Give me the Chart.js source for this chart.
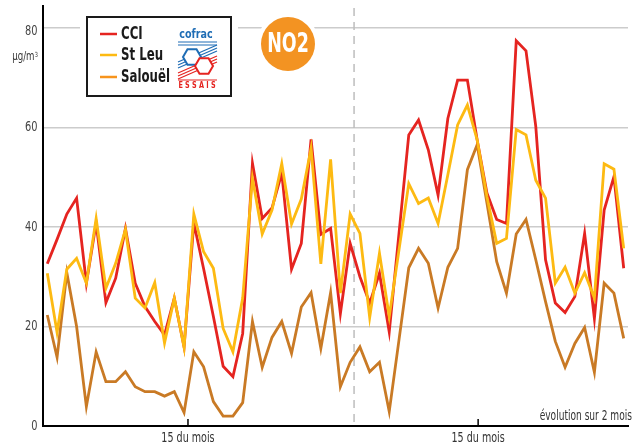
<!DOCTYPE html>
<html>
<head>
<meta charset="utf-8">
<script src="https://cdn.jsdelivr.net/npm/chart.js@4.4.0/dist/chart.umd.min.js"></script>
<style>
  html, body { margin: 0; padding: 0; background: #fff; }
  #wrap { width: 633px; height: 448px; }
</style>
</head>
<body>
<div id="wrap"><canvas id="no2Chart" width="633" height="448"></canvas></div>
<script>
// --- Data (µg/m3, one value per day over 2 months) ---
const seriesNames = ['CCI', 'St Leu', 'Salouël'];
const cci = [32.6, 37.5, 42.6, 45.8, 28.7, 40.8, 24.8, 29.7, 39.7, 28.7,
             24.0, 21.0, 18.3, 25.7, 15.9, 40.8, 31.6, 22.0, 12.0, 9.9,
             18.6, 52.8, 41.7, 43.8, 50.8, 31.5, 36.7, 57.6, 38.5, 39.7,
             22.6, 36.7, 30.0, 24.7, 30.7, 18.9, 38.7, 58.5, 61.5, 55.5,
             46.4, 61.8, 69.5, 69.5, 57.5, 46.8, 41.5, 40.7, 77.4, 75.4,
             60.2, 33.4, 24.7, 22.8, 26.0, 38.7, 21.6, 43.4, 50.1, 31.7];
const stLeu = [30.7, 18.8, 31.5, 33.7, 28.7, 41.7, 27.7, 32.7, 39.5, 25.7,
               23.7, 28.8, 16.7, 25.7, 15.8, 42.6, 35.0, 31.7, 19.6, 14.9,
               25.7, 49.8, 38.6, 43.4, 52.7, 40.6, 45.6, 55.8, 32.6, 53.6,
               26.7, 42.6, 38.7, 21.8, 34.7, 22.0, 35.4, 48.7, 44.7, 45.8,
               40.7, 50.5, 60.5, 64.5, 57.5, 46.1, 36.7, 37.7, 59.6, 58.5,
               49.4, 45.8, 28.7, 31.9, 26.7, 30.8, 25.7, 52.7, 51.6, 35.7];
const salouel = [22.3, 13.8, 30.8, 20.0, 3.9, 14.9, 8.9, 8.9, 10.9, 7.9,
                 6.9, 6.9, 6.0, 6.9, 2.7, 14.9, 11.9, 4.9, 2.0, 2.0,
                 4.7, 21.0, 11.8, 17.8, 21.0, 14.6, 23.9, 26.8, 15.6, 26.8,
                 7.9, 12.8, 15.9, 10.9, 12.8, 2.9, 17.3, 31.8, 35.7, 32.7,
                 23.7, 31.9, 35.7, 51.5, 56.5, 44.8, 33.0, 26.7, 38.6, 41.5,
                 33.4, 25.0, 17.0, 11.8, 16.6, 19.8, 10.8, 28.7, 26.7, 17.6];
const yTicks = [0, 20, 40, 60, 80];
const xTickValues = [14.4, 44.1];
const xTickLabels = ['15 du mois', '15 du mois'];
const monthBoundary = 31.4;

const FONT = "'DejaVu Sans Condensed', 'DejaVu Sans', sans-serif";
const colors = { cci: '#E52420', stLeu: '#FDBA12', salouel: '#C97A25', salouelKey: '#F7941D', blue: '#1F6DB5', red: '#E52420' };

function toPoints(arr) {
    return arr.map((v, i) => ({ x: i, y: v }));
}

// draws text squeezed horizontally (the original uses a narrow typeface)
function narrowText(ctx, text, x, y, font, color, align, squeeze) {
    ctx.save();
    ctx.font = font;
    ctx.fillStyle = color;
    ctx.textAlign = align;
    ctx.textBaseline = 'middle';
    ctx.translate(x, y);
    ctx.scale(squeeze, 1);
    ctx.fillText(text, 0, 0);
    ctx.restore();
}

// --- Decorations: dashed month line, tick labels, legend box, logo, badge ---
const decorations = {
    id: 'decorations',
    beforeDatasetsDraw(chart) {
        const ctx = chart.ctx;
        const x = chart.scales.x.getPixelForValue(monthBoundary);
        ctx.save();
        ctx.strokeStyle = '#bdbdbd';
        ctx.lineWidth = 1.5;
        ctx.setLineDash([8, 6]);
        ctx.beginPath();
        ctx.moveTo(x, chart.chartArea.top + 2);
        ctx.lineTo(x, chart.chartArea.bottom);
        ctx.stroke();
        ctx.restore();
    },
    afterDraw(chart) {
        const ctx = chart.ctx;
        const xs = chart.scales.x;
        const ys = chart.scales.y;
        const bottom = chart.chartArea.bottom;
        ctx.save();

        // x axis: inward tick marks and labels
        ctx.strokeStyle = '#000';
        ctx.lineWidth = 1.5;
        xs.ticks.forEach((t, i) => {
            const px = xs.getPixelForValue(t.value);
            ctx.beginPath();
            ctx.moveTo(px, bottom);
            ctx.lineTo(px, bottom - 7);
            ctx.stroke();
            narrowText(ctx, xTickLabels[i], px, bottom + 12, '14px ' + FONT, '#333', 'center', 0.76);
        });

        // y axis labels
        ys.ticks.forEach(t => {
            const py = ys.getPixelForValue(t.value);
            narrowText(ctx, String(t.value), 37.5, py + (t.value === 80 ? 3 : 0), '14px ' + FONT, '#444', 'right', 0.78);
        });
        narrowText(ctx, 'µg/m', 34.5, 57, '12px ' + FONT, '#333', 'right', 0.8);
        narrowText(ctx, '3', 38, 55, '7px ' + FONT, '#333', 'right', 0.8);

        // caption
        narrowText(ctx, 'évolution sur 2 mois', 632, 416, '14px ' + FONT, '#333', 'right', 0.72);

        // legend box
        ctx.fillStyle = '#fff';
        ctx.fillRect(80, 10, 158, 92);
        ctx.strokeStyle = '#1a1a1a';
        ctx.lineWidth = 2;
        ctx.strokeRect(87, 17, 144, 79);
        const keys = [
            { name: seriesNames[0], color: colors.cci, y: 34 },
            { name: seriesNames[1], color: colors.stLeu, y: 55 },
            { name: seriesNames[2], color: colors.salouelKey, y: 77 }
        ];
        keys.forEach(k => {
            ctx.strokeStyle = k.color;
            ctx.lineWidth = 2.5;
            ctx.beginPath();
            ctx.moveTo(100, k.y);
            ctx.lineTo(117, k.y);
            ctx.stroke();
            narrowText(ctx, k.name, 121, k.y + 1, 'bold 17px ' + FONT, '#1a1a1a', 'left', 0.77);
        });

        // cofrac logo (simplified)
        narrowText(ctx, 'cofrac', 196, 35, 'bold 13px ' + FONT, colors.blue, 'center', 0.82);
        ctx.lineWidth = 1.2;
        ctx.strokeStyle = colors.blue;
        [42, 45].forEach(yy => {
            ctx.beginPath(); ctx.moveTo(178, yy); ctx.lineTo(217, yy); ctx.stroke();
        });
        [0, 3, 6].forEach(d => {
            ctx.beginPath(); ctx.moveTo(217, 45 + d); ctx.lineTo(178, 62 + d); ctx.stroke();
        });
        function hexagon(cx, cy, r, color) {
            ctx.strokeStyle = color;
            ctx.lineWidth = 2;
            ctx.fillStyle = '#fff';
            ctx.beginPath();
            for (let i = 0; i < 6; i++) {
                const a = i * Math.PI / 3;
                const px = cx + r * Math.cos(a), py = cy + r * Math.sin(a);
                if (i === 0) ctx.moveTo(px, py); else ctx.lineTo(px, py);
            }
            ctx.closePath();
            ctx.fill();
            ctx.stroke();
        }
        hexagon(192, 57, 9, colors.blue);
        ctx.strokeStyle = colors.red;
        ctx.lineWidth = 1.2;
        [0, 3, 6].forEach(d => {
            ctx.beginPath(); ctx.moveTo(217, 56 + d); ctx.lineTo(178, 73 + d); ctx.stroke();
        });
        ctx.beginPath(); ctx.moveTo(178, 80); ctx.lineTo(217, 80); ctx.stroke();
        hexagon(204, 66, 9, colors.red);
        narrowText(ctx, 'E S S A I S', 197, 86, 'bold 8px ' + FONT, colors.red, 'center', 0.9);

        // NO2 badge
        ctx.fillStyle = '#fff';
        ctx.beginPath(); ctx.arc(288, 44, 31, 0, Math.PI * 2); ctx.fill();
        ctx.fillStyle = '#F39322';
        ctx.beginPath(); ctx.arc(288, 44, 27, 0, Math.PI * 2); ctx.fill();
        narrowText(ctx, 'NO2', 288, 45, 'bold 27px ' + FONT, '#fff', 'center', 0.72);

        ctx.restore();
    }
};

new Chart(document.getElementById('no2Chart'), {
    type: 'line',
    data: {
        datasets: [
            { label: seriesNames[1], data: toPoints(stLeu), borderColor: colors.stLeu, order: 0 },
            { label: seriesNames[0], data: toPoints(cci), borderColor: colors.cci, order: 1 },
            { label: seriesNames[2], data: toPoints(salouel), borderColor: colors.salouel, order: 2 }
        ]
    },
    options: {
        responsive: false,
        animation: false,
        layout: { padding: { top: 6, right: 5, left: 0, bottom: 0 } },
        elements: {
            line: { borderWidth: 2.8, tension: 0, borderJoinStyle: 'miter', fill: false },
            point: { radius: 0 }
        },
        plugins: { legend: { display: false }, tooltip: { enabled: false } },
        scales: {
            x: {
                type: 'linear',
                min: -0.44,
                max: 59.44,
                grid: { display: false },
                border: { color: '#000', width: 2 },
                afterBuildTicks: s => { s.ticks = xTickValues.map(v => ({ value: v })); },
                afterFit: s => { s.height = 22; },
                ticks: { display: false }
            },
            y: {
                min: 0,
                max: 84.4,
                afterBuildTicks: s => { s.ticks = yTicks.map(v => ({ value: v })); },
                afterFit: s => { s.width = 43; },
                grid: { color: '#cccccc', lineWidth: 1.5, drawTicks: false },
                border: { color: '#000', width: 2 },
                ticks: { display: false }
            }
        }
    },
    plugins: [decorations]
});
</script>
</body>
</html>
